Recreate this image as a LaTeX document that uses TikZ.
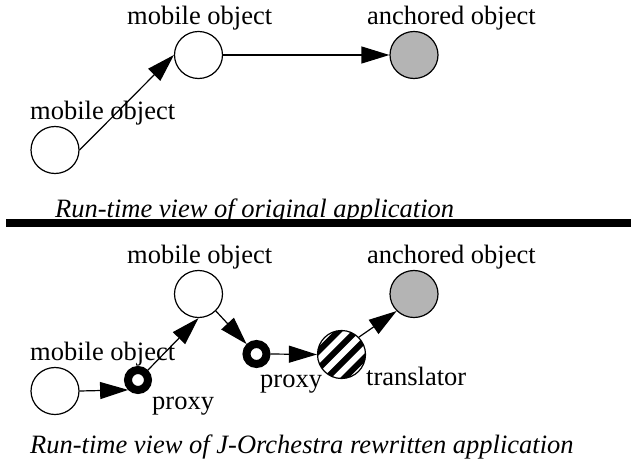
\documentclass[tikz,border=0pt]{standalone}
\usepackage{fontspec}
\setmainfont{Liberation Serif}
\usetikzlibrary{shapes.geometric,arrows.meta}

\definecolor{anchorgray}{RGB}{180,180,180}

\begin{document}
\begin{tikzpicture}[x=1pt,y=-1pt,
    obj/.style={ellipse, draw, line width=1.2pt, fill=white, minimum width=48pt, minimum height=47pt, inner sep=0pt},
    anchored/.style={obj, fill=anchorgray},
    proxy/.style={circle, draw, line width=8pt, fill=white, minimum size=20pt, inner sep=0pt},
    striped/.style={circle, draw, line width=1.2pt, fill=white, minimum size=48pt, inner sep=0pt,
        path picture={
            \foreach \d in {-4,...,4}
                \draw[line width=6pt] (path picture bounding box.center) ++({(\d+0.5)*8.8},{(\d+0.5)*8.8}) ++(-40,40) -- ++(80,-80);
        }},
    link/.style={line width=1.2pt, -{Triangle[length=28pt,width=17pt]}},
    lbl/.style={anchor=base west, inner sep=0pt, font=\fontsize{26.5}{30}\selectfont},
    captxt/.style={lbl, font=\fontsize{26.5}{30}\selectfont\itshape}]
    \useasboundingbox (0,0) rectangle (631,465);

    % original application
    \node[lbl] (mobAtxt) at (30,120) {mobile object};
    \node[lbl] (mobBtxt) at (127,25) {mobile object};
    \node[lbl] (anctxt) at (367,25) {anchored object};
    \node[obj] (mobA) at (55,150) {};
    \node[obj] (mobB) at (198.5,55) {};
    \node[anchored] (anc) at (414,55) {};
    \draw[link] (mobA.east) -- (mobB.west);
    \draw[link] (mobB.east) -- (anc.west);
    \node[captxt] (captop) at (55,217) {Run-time view of original application};

    % separator
    \fill (6,219) rectangle (631,227);

    % rewritten application
    \node[lbl] (mobCtxt) at (30,360) {mobile object};
    \node[lbl] (mobDtxt) at (127,263) {mobile object};
    \node[lbl] (anc2txt) at (367,263) {anchored object};
    \node[obj] (mobC) at (55,391) {};
    \node[obj] (mobD) at (198.5,294) {};
    \node[anchored] (anc2) at (414,294) {};
    \node[proxy] (prxA) at (138,380) {};
    \node[proxy] (prxB) at (256.5,354) {};
    \node[striped] (trans) at (341.5,354.5) {};
    \node[lbl] (prxAtxt) at (152,409) {proxy};
    \node[lbl] (prxBtxt) at (260,387) {proxy};
    \node[lbl] (transtxt) at (366,385) {translator};
    \draw[link] (mobC.east) -- (prxA.south west);
    \draw[link] (prxA.north east) -- (mobD.south);
    \draw[link] (mobD.south east) -- (prxB.north west);
    \draw[link] (prxB.east) -- (trans.west);
    \draw[link] (trans.north east) -- (anc2.south west);
    \node[captxt] (capbot) at (30,453) {Run-time view of J-Orchestra rewritten application};
\end{tikzpicture}
\end{document}
